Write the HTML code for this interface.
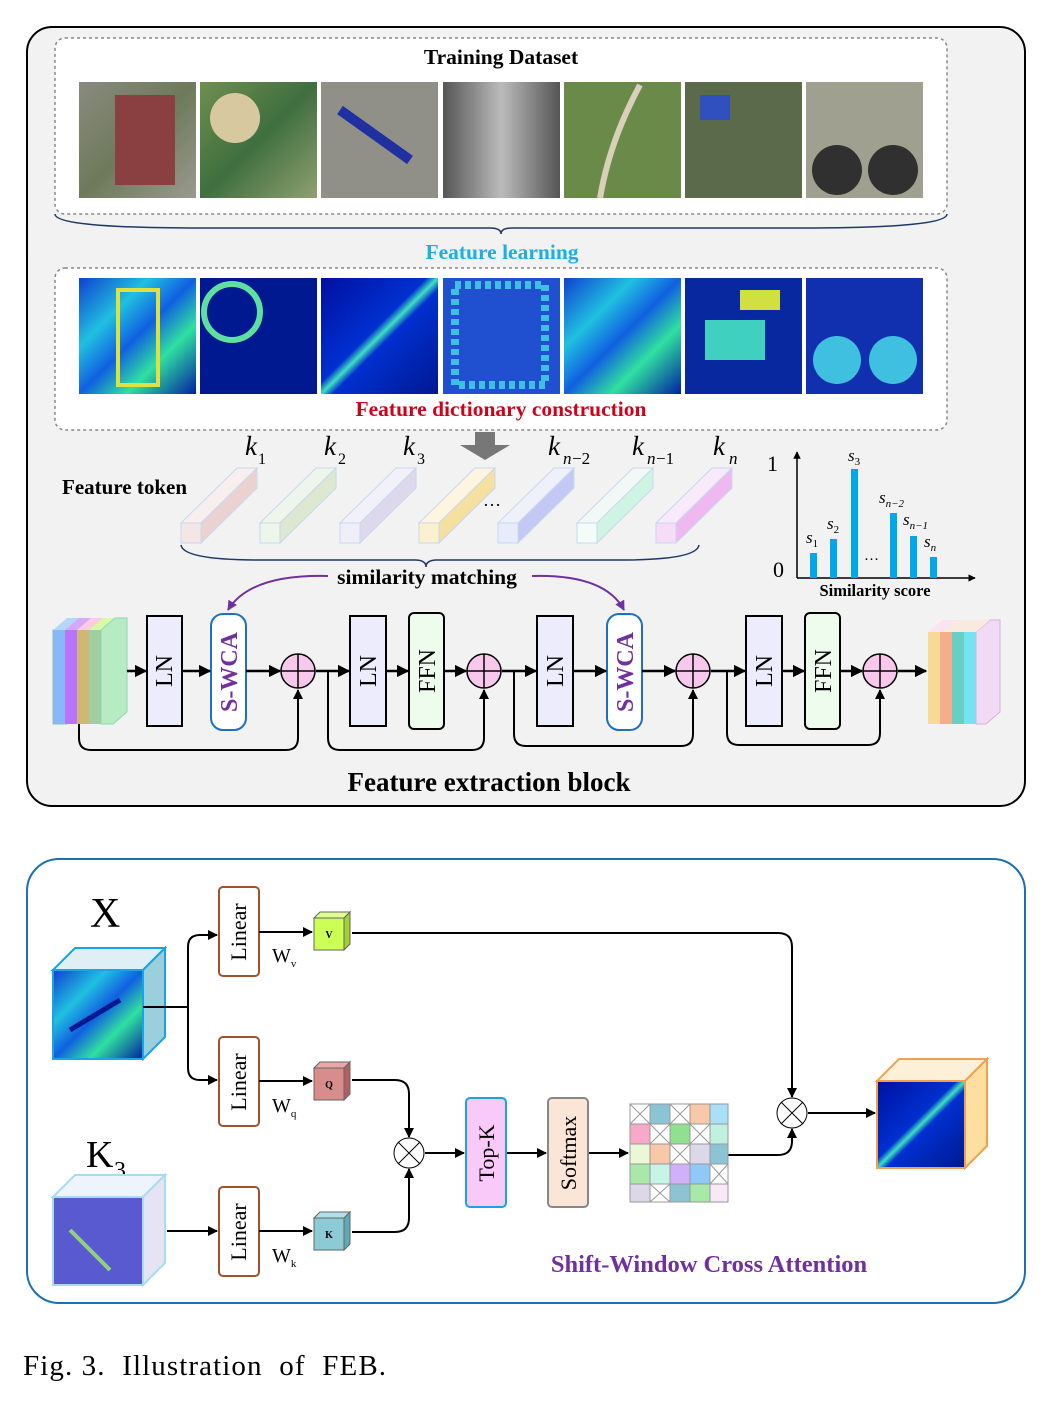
<!DOCTYPE html>
<html><head><meta charset="utf-8"><style>
body{margin:0;background:#fff}
svg{display:block}
text{font-family:"Liberation Serif",serif}
</style></head><body>
<svg width="1057" height="1413" viewBox="0 0 1057 1413" xmlns="http://www.w3.org/2000/svg">
<defs>
<marker id="a" viewBox="0 0 10 10" refX="9" refY="5" markerWidth="5" markerHeight="5" orient="auto"><path d="M0,0L10,5L0,10z" fill="#000"/></marker>
<marker id="p" viewBox="0 0 10 10" refX="9" refY="5" markerWidth="5" markerHeight="5" orient="auto"><path d="M0,0L10,5L0,10z" fill="#7030a0"/></marker>
<linearGradient id="h1" x1="0" y1="0" x2="1" y2="1"><stop offset="0" stop-color="#1040d0"/><stop offset=".3" stop-color="#20c0e0"/><stop offset=".5" stop-color="#1060e0"/><stop offset=".7" stop-color="#30e0a0"/><stop offset="1" stop-color="#0020a0"/></linearGradient>
<linearGradient id="h2" x1="0" y1="0" x2="1" y2="1"><stop offset="0" stop-color="#0010a0"/><stop offset=".45" stop-color="#0030d0"/><stop offset=".5" stop-color="#40e0c0"/><stop offset=".55" stop-color="#0030d0"/><stop offset="1" stop-color="#001890"/></linearGradient>
<linearGradient id="g1" x1="0" y1="0" x2="1" y2="1"><stop offset="0" stop-color="#8a8a80"/><stop offset=".5" stop-color="#6e7a5a"/><stop offset="1" stop-color="#9a9a90"/></linearGradient>
<linearGradient id="g2" x1="0" y1="0" x2="1" y2="1"><stop offset="0" stop-color="#6f8f4f"/><stop offset=".5" stop-color="#3f6f3f"/><stop offset="1" stop-color="#8fa070"/></linearGradient>
<linearGradient id="g3" x1="0" y1="0" x2="1" y2="0"><stop offset="0" stop-color="#555"/><stop offset=".5" stop-color="#bbb"/><stop offset="1" stop-color="#555"/></linearGradient>
</defs>

<rect x="27" y="27" width="998" height="779" rx="25" fill="#f2f2f2" stroke="#000" stroke-width="2"/>
<rect x="55" y="38" width="892" height="176" rx="10" fill="#fff" stroke="#888" stroke-width="1.5" stroke-dasharray="3,3"/>
<text x="501" y="64" font-size="21.5" font-weight="bold" text-anchor="middle">Training Dataset</text>
<rect x="79" y="82" width="117" height="116" fill="url(#g1)"/><rect x="115" y="95" width="60" height="90" fill="#8a4040"/>
<rect x="200" y="82" width="117" height="116" fill="url(#g2)"/><circle cx="235" cy="118" r="25" fill="#d8c8a0"/>
<rect x="321" y="82" width="117" height="116" fill="#909088"/><path d="M340 110 L410 160" stroke="#2030a0" stroke-width="10"/>
<rect x="443" y="82" width="117" height="116" fill="url(#g3)"/>
<rect x="564" y="82" width="117" height="116" fill="#6a8a4a"/><path d="M640 85 Q610 140 600 198" stroke="#d8d0b8" stroke-width="6" fill="none"/>
<rect x="685" y="82" width="117" height="116" fill="#5a6a4a"/><rect x="700" y="95" width="30" height="25" fill="#3050c0"/>
<rect x="806" y="82" width="117" height="116" fill="#a0a090"/><circle cx="837" cy="170" r="25" fill="#303030"/><circle cx="893" cy="170" r="25" fill="#303030"/>
<path d="M55 214 Q55 228 200 228 L490 228 Q501 228 501 234 Q501 228 512 228 L800 228 Q947 228 947 214" fill="none" stroke="#1f3864" stroke-width="1.5"/>
<text x="502" y="259" font-size="21.5" font-weight="bold" fill="#1ab0e6" text-anchor="middle">Feature learning</text>

<rect x="55" y="268" width="892" height="162" rx="10" fill="#fff" stroke="#888" stroke-width="1.5" stroke-dasharray="3,3"/>
<rect x="79" y="278" width="117" height="116" fill="url(#h1)"/><rect x="118" y="290" width="40" height="95" fill="none" stroke="#e0e040" stroke-width="4"/>
<rect x="200" y="278" width="117" height="116" fill="#001890"/><circle cx="232" cy="312" r="28" fill="none" stroke="#60e0a0" stroke-width="6"/>
<rect x="321" y="278" width="117" height="116" fill="url(#h2)"/>
<rect x="443" y="278" width="117" height="116" fill="#2050d0"/><rect x="455" y="285" width="90" height="100" fill="none" stroke="#40c0e0" stroke-width="8" stroke-dasharray="6,4"/>
<rect x="564" y="278" width="117" height="116" fill="url(#h1)"/>
<rect x="685" y="278" width="117" height="116" fill="#0828a0"/><rect x="705" y="320" width="60" height="40" fill="#40d0c0"/><rect x="740" y="290" width="40" height="20" fill="#d0e040"/>
<rect x="806" y="278" width="117" height="116" fill="#1030b0"/><circle cx="837" cy="360" r="24" fill="#40c0e0"/><circle cx="893" cy="360" r="24" fill="#40c0e0"/>
<text x="501" y="416" font-size="21.5" font-weight="bold" fill="#d0021b" text-anchor="middle">Feature dictionary construction</text>
<path d="M475 432 H495 V445 H510 L485 460 L460 445 H475 Z" fill="#777"/>

<text x="62" y="494" font-size="21" font-weight="bold">Feature token</text>
<g font-size="27" font-style="italic">
<text x="245" y="455">k</text><text x="258" y="464" font-size="16" font-style="normal">1</text>
<text x="324" y="455">k</text><text x="338" y="464" font-size="16" font-style="normal">2</text>
<text x="403" y="455">k</text><text x="417" y="464" font-size="16" font-style="normal">3</text>
<text x="548" y="455">k</text><text x="563" y="464" font-size="17">n</text><text x="572" y="464" font-size="17" font-style="normal">−2</text>
<text x="632" y="455">k</text><text x="647" y="464" font-size="17">n</text><text x="656" y="464" font-size="17" font-style="normal">−1</text>
<text x="713" y="455">k</text><text x="729" y="464" font-size="17">n</text>
</g>
<g stroke-width="1">
<g stroke="#c8d8f0"><path d="M181 523 L237 468 H257 L201 523Z" fill="#f8eeee"/><path d="M201 523 L257 468 V488 L201 543Z" fill="#ebd2d0"/><rect x="181" y="523" width="20" height="20" fill="#f5e6e6"/></g>
<g stroke="#c8d8f0"><path d="M260 523 L316 468 H336 L280 523Z" fill="#eef5ea"/><path d="M280 523 L336 468 V488 L280 543Z" fill="#dce8cf"/><rect x="260" y="523" width="20" height="20" fill="#eef5ea"/></g>
<g stroke="#c8d8f0"><path d="M340 523 L396 468 H416 L360 523Z" fill="#f2f0f8"/><path d="M360 523 L416 468 V488 L360 543Z" fill="#ddd8ec"/><rect x="340" y="523" width="20" height="20" fill="#f0eef8"/></g>
<g stroke="#c8d8f0"><path d="M419 523 L475 468 H495 L439 523Z" fill="#fdf5e0"/><path d="M439 523 L495 468 V488 L439 543Z" fill="#f5e0a0"/><rect x="419" y="523" width="20" height="20" fill="#fbf0d0"/></g>
<g stroke="#c8d8f0"><path d="M498 523 L554 468 H574 L518 523Z" fill="#eef0fa"/><path d="M518 523 L574 468 V488 L518 543Z" fill="#c4c8f4"/><rect x="498" y="523" width="20" height="20" fill="#e8ecfa"/></g>
<g stroke="#c8d8f0"><path d="M577 523 L633 468 H653 L597 523Z" fill="#f2f8f6"/><path d="M597 523 L653 468 V488 L597 543Z" fill="#d0f4e4"/><rect x="577" y="523" width="20" height="20" fill="#f4fbf8"/></g>
<g stroke="#c8d8f0"><path d="M656 523 L712 468 H732 L676 523Z" fill="#f8eafa"/><path d="M676 523 L732 468 V488 L676 543Z" fill="#f0b8f0"/><rect x="656" y="523" width="20" height="20" fill="#f6dcf6"/></g>
</g>
<text x="483" y="506" font-size="18">…</text>
<path d="M181 545 Q183 560 260 560 L415 560 Q426 560 426 567 Q426 560 437 560 L620 560 Q697 560 699 545" fill="none" stroke="#1f3864" stroke-width="1.5"/>
<text x="427" y="584" font-size="21.5" font-weight="bold" text-anchor="middle">similarity matching</text>
<path d="M328 576 Q250 574 228 610" fill="none" stroke="#7030a0" stroke-width="2" marker-end="url(#p)"/>
<path d="M532 576 Q605 574 624 610" fill="none" stroke="#7030a0" stroke-width="2" marker-end="url(#p)"/>

<line x1="797" y1="578" x2="797" y2="452" stroke="#000" stroke-width="1.5" marker-end="url(#a)"/>
<line x1="797" y1="578" x2="975" y2="578" stroke="#000" stroke-width="1.5" marker-end="url(#a)"/>
<text x="767" y="471" font-size="22">1</text><text x="773" y="577" font-size="22">0</text>
<g fill="#00a8e8"><rect x="810" y="553" width="7" height="25"/><rect x="830" y="539" width="7" height="39"/><rect x="851" y="469" width="7" height="109"/><rect x="890" y="513" width="7" height="65"/><rect x="910" y="536" width="7" height="42"/><rect x="930" y="557" width="7" height="21"/></g>
<g font-size="17" font-style="italic"><text x="806" y="543">s<tspan font-size="11" font-style="normal" dy="4">1</tspan></text><text x="827" y="529">s<tspan font-size="11" font-style="normal" dy="4">2</tspan></text><text x="848" y="461">s<tspan font-size="11" font-style="normal" dy="4">3</tspan></text><text x="879" y="503">s<tspan font-size="11" dy="4">n−2</tspan></text><text x="903" y="525">s<tspan font-size="11" dy="4">n−1</tspan></text><text x="924" y="547">s<tspan font-size="11" dy="4">n</tspan></text></g>
<text x="864" y="560" font-size="15">…</text>
<text x="875" y="596" font-size="16.5" font-weight="bold" text-anchor="middle">Similarity score</text>

<g opacity="0.7">
<rect x="53" y="630" width="14" height="94" fill="#5aa0ff" stroke="#6aa"/><path d="M53 630 L67 618 H81 L67 630Z" fill="#9cf"/>
<rect x="65" y="630" width="14" height="94" fill="#a040ff"/><path d="M65 630 L79 618 H93 L79 630Z" fill="#c8f"/>
<rect x="77" y="630" width="14" height="94" fill="#c0a040"/><path d="M77 630 L91 618 H105 L91 630Z" fill="#fbd"/>
<rect x="89" y="630" width="14" height="94" fill="#80c080"/><path d="M89 630 L103 618 H117 L103 630Z" fill="#cf8"/>
<path d="M101 630 L115 618 H127 V712 L113 724 H101Z" fill="#9fe9b0" stroke="#6c9"/>
</g>
<g opacity="0.7">
<rect x="928" y="632" width="14" height="92" fill="#f8d070"/><path d="M928 632 L942 620 H956 L942 632Z" fill="#fde"/>
<rect x="940" y="632" width="14" height="92" fill="#f89060"/>
<rect x="952" y="632" width="14" height="92" fill="#30c0b0"/>
<rect x="964" y="632" width="14" height="92" fill="#40e0f0"/>
<path d="M976 632 L990 620 H1000 V712 L986 724 H976Z" fill="#f0d0f8" stroke="#c9c"/>
<path d="M942 632 L956 620 H990 L976 632Z" fill="#fde8d8"/>
</g>
<g stroke="#000" stroke-width="2" fill="#ececfc">
<rect x="147" y="616" width="35" height="110"/><rect x="350" y="616" width="36" height="110"/><rect x="537" y="616" width="36" height="110"/><rect x="746" y="616" width="36" height="110"/>
<rect x="409" y="613" width="35" height="116" rx="5" fill="#eefcee"/><rect x="805" y="613" width="35" height="116" rx="5" fill="#eefcee"/>
</g>
<rect x="211" y="614" width="35" height="116" rx="12" fill="#fff" stroke="#1f6fc0" stroke-width="2"/>
<rect x="607" y="614" width="35" height="116" rx="12" fill="#fff" stroke="#1f6fc0" stroke-width="2"/>
<g font-size="24" text-anchor="middle">
<text transform="translate(172,671) rotate(-90)">LN</text><text transform="translate(376,671) rotate(-90)">LN</text><text transform="translate(563,671) rotate(-90)">LN</text><text transform="translate(772,671) rotate(-90)">LN</text>
<text transform="translate(435,671) rotate(-90)">FFN</text><text transform="translate(831,671) rotate(-90)">FFN</text>
<text transform="translate(237,672) rotate(-90)" fill="#7030a0" font-weight="bold">S-WCA</text><text transform="translate(633,672) rotate(-90)" fill="#7030a0" font-weight="bold">S-WCA</text>
</g>
<g stroke="#000" stroke-width="2.5" fill="none">
<line x1="127" y1="671" x2="146" y2="671" marker-end="url(#a)"/><line x1="182" y1="671" x2="210" y2="671" marker-end="url(#a)"/><line x1="246" y1="671" x2="280" y2="671" marker-end="url(#a)"/>
<line x1="316" y1="671" x2="349" y2="671" marker-end="url(#a)"/><line x1="386" y1="671" x2="408" y2="671" marker-end="url(#a)"/><line x1="444" y1="671" x2="466" y2="671" marker-end="url(#a)"/>
<line x1="502" y1="671" x2="536" y2="671" marker-end="url(#a)"/><line x1="573" y1="671" x2="606" y2="671" marker-end="url(#a)"/><line x1="642" y1="671" x2="675" y2="671" marker-end="url(#a)"/>
<line x1="711" y1="671" x2="745" y2="671" marker-end="url(#a)"/><line x1="782" y1="671" x2="804" y2="671" marker-end="url(#a)"/><line x1="840" y1="671" x2="862" y2="671" marker-end="url(#a)"/>
<line x1="898" y1="671" x2="926" y2="671" marker-end="url(#a)"/>
</g>
<g stroke="#000" stroke-width="2" fill="none">
<path d="M79 724 V738 Q79 750 91 750 H286 Q298 750 298 738 V690" marker-end="url(#a)"/>
<path d="M328 671 V738 Q328 750 340 750 H472 Q484 750 484 738 V690" marker-end="url(#a)"/>
<path d="M514 671 V734 Q514 746 526 746 H681 Q693 746 693 734 V690" marker-end="url(#a)"/>
<path d="M727 671 V733 Q727 745 739 745 H868 Q880 745 880 733 V690" marker-end="url(#a)"/>
</g>
<g stroke="#000" stroke-width="1.5" fill="#f8c8ec">
<circle cx="298" cy="671" r="17"/><circle cx="484" cy="671" r="17"/><circle cx="693" cy="671" r="17"/><circle cx="880" cy="671" r="17"/>
</g>
<g stroke="#000" stroke-width="1.5"><path d="M281 671H315M298 654V688M467 671H501M484 654V688M676 671H710M693 654V688M863 671H897M880 654V688"/></g>
<text x="489" y="791" font-size="27" font-weight="bold" text-anchor="middle">Feature extraction block</text>

<rect x="27" y="859" width="998" height="444" rx="32" fill="#fff" stroke="#1a6fb5" stroke-width="2"/>
<text x="90" y="927" font-size="42">X</text>
<text x="86" y="1167" font-size="38">K</text><text x="114" y="1178" font-size="24">3</text>
<path d="M53 970 L75 948 H165 L143 970Z" fill="#def0f6" stroke="#1aa3e8" stroke-width="2"/>
<path d="M143 970 L165 948 V1037 L143 1059Z" fill="#9ccfdc" stroke="#1aa3e8" stroke-width="2"/>
<rect x="53" y="970" width="90" height="89" fill="url(#h1)" stroke="#1aa3e8" stroke-width="2"/>
<path d="M70 1030 L120 1000" stroke="#001890" stroke-width="5"/>
<path d="M53 1197 L75 1175 H165 L143 1197Z" fill="#eef4fb" stroke="#a8dcf0" stroke-width="2"/>
<path d="M143 1197 L165 1175 V1263 L143 1285Z" fill="#e6e4f4" stroke="#a8dcf0" stroke-width="2"/>
<rect x="53" y="1197" width="90" height="88" fill="#5a5ad0" stroke="#a8dcf0" stroke-width="2"/>
<path d="M70 1230 L110 1270" stroke="#90d080" stroke-width="4"/>
<path d="M877 1081 L899 1059 H987 L965 1081Z" fill="#fdf0d8" stroke="#f0a050" stroke-width="2"/>
<path d="M965 1081 L987 1059 V1146 L965 1168Z" fill="#fde0a0" stroke="#f0a050" stroke-width="2"/>
<rect x="877" y="1081" width="88" height="87" fill="url(#h2)" stroke="#f0a050" stroke-width="2"/>

<g stroke="#a0522d" stroke-width="2" fill="#fff">
<rect x="219" y="887" width="40" height="89" rx="4"/><rect x="219" y="1037" width="40" height="89" rx="4"/><rect x="219" y="1187" width="40" height="89" rx="4"/>
</g>
<g font-size="22" text-anchor="middle">
<text transform="translate(246,932) rotate(-90)">Linear</text><text transform="translate(246,1082) rotate(-90)">Linear</text><text transform="translate(246,1232) rotate(-90)">Linear</text>
</g>
<g font-size="20"><text x="272" y="962">W<tspan font-size="11" dy="5">v</tspan></text><text x="272" y="1112">W<tspan font-size="11" dy="5">q</tspan></text><text x="272" y="1262">W<tspan font-size="11" dy="5">k</tspan></text></g>
<g stroke="#666" stroke-width="1">
<path d="M314 918 L320 912 H350 L344 918Z" fill="#e0ff90"/><path d="M344 918 L350 912 V944 L344 950Z" fill="#a0d030"/><rect x="314" y="918" width="30" height="32" fill="#ccff55"/>
<path d="M314 1068 L320 1062 H350 L344 1068Z" fill="#e8a8a8"/><path d="M344 1068 L350 1062 V1094 L344 1100Z" fill="#b06060"/><rect x="314" y="1068" width="30" height="32" fill="#d88c8c"/>
<path d="M314 1218 L320 1212 H350 L344 1218Z" fill="#b0e0ea"/><path d="M344 1218 L350 1212 V1244 L344 1250Z" fill="#60a8b8"/><rect x="314" y="1218" width="30" height="32" fill="#8ccad6"/>
</g>
<g font-size="10" font-weight="bold" text-anchor="middle"><text x="329" y="938">V</text><text x="329" y="1088">Q</text><text x="329" y="1238">K</text></g>

<g stroke="#000" stroke-width="2" fill="none">
<path d="M143 1007 H188"/>
<path d="M188 1007 V947 Q188 935 200 935 H217" marker-end="url(#a)"/>
<path d="M188 1007 V1068 Q188 1080 200 1080 H217" marker-end="url(#a)"/>
<path d="M167 1231 H217" marker-end="url(#a)"/>
<path d="M259 932 H312" marker-end="url(#a)"/><path d="M259 1081 H312" marker-end="url(#a)"/><path d="M259 1231 H312" marker-end="url(#a)"/>
<path d="M352 933 H778 Q792 933 792 947 V1097" marker-end="url(#a)"/>
<path d="M352 1080 H395 Q409 1080 409 1094 V1137" marker-end="url(#a)"/>
<path d="M352 1232 H395 Q409 1232 409 1218 V1169" marker-end="url(#a)"/>
<path d="M425 1153 H464" marker-end="url(#a)"/><path d="M506 1153 H546" marker-end="url(#a)"/><path d="M588 1153 H628" marker-end="url(#a)"/>
<path d="M728 1155 H778 Q792 1155 792 1141 V1129" marker-end="url(#a)"/>
<path d="M808 1113 H875" marker-end="url(#a)"/>
</g>
<g stroke="#000" stroke-width="1" fill="#fff">
<circle cx="409" cy="1153" r="15"/><circle cx="792" cy="1113" r="15"/>
<path d="M398 1142 L420 1164 M420 1142 L398 1164 M781 1102 L803 1124 M803 1102 L781 1124"/>
</g>
<rect x="466" y="1098" width="40" height="109" rx="4" fill="#f9c9f9" stroke="#1aa3e8" stroke-width="2"/>
<rect x="548" y="1098" width="40" height="109" rx="4" fill="#fbe5d6" stroke="#888" stroke-width="2"/>
<text transform="translate(494,1153) rotate(-90)" font-size="22" text-anchor="middle">Top-K</text>
<text transform="translate(576,1153) rotate(-90)" font-size="22" text-anchor="middle">Softmax</text>
<g stroke="#999" stroke-width="1">
<rect x="630" y="1104" width="20" height="20" fill="#fff"/><rect x="650" y="1104" width="20" height="20" fill="#8cc4d4"/><rect x="670" y="1104" width="20" height="20" fill="#fff"/><rect x="690" y="1104" width="20" height="20" fill="#f8c8a8"/><rect x="710" y="1104" width="18" height="20" fill="#a8e0f8"/>
<rect x="630" y="1124" width="20" height="20" fill="#f8a8c8"/><rect x="650" y="1124" width="20" height="20" fill="#fff"/><rect x="670" y="1124" width="20" height="20" fill="#90e090"/><rect x="690" y="1124" width="20" height="20" fill="#fff"/><rect x="710" y="1124" width="18" height="20" fill="#c0f0e0"/>
<rect x="630" y="1144" width="20" height="20" fill="#eaf8d8"/><rect x="650" y="1144" width="20" height="20" fill="#f8c8a8"/><rect x="670" y="1144" width="20" height="20" fill="#fff"/><rect x="690" y="1144" width="20" height="20" fill="#dcd8e8"/><rect x="710" y="1144" width="18" height="20" fill="#8cc4d4"/>
<rect x="630" y="1164" width="20" height="20" fill="#a8e8a8"/><rect x="650" y="1164" width="20" height="20" fill="#c8f4e8"/><rect x="670" y="1164" width="20" height="20" fill="#d0b0f8"/><rect x="690" y="1164" width="20" height="20" fill="#90c8f8"/><rect x="710" y="1164" width="18" height="20" fill="#fff"/>
<rect x="630" y="1184" width="20" height="18" fill="#dcd8e8"/><rect x="650" y="1184" width="20" height="18" fill="#fff"/><rect x="670" y="1184" width="20" height="18" fill="#8cc4d4"/><rect x="690" y="1184" width="20" height="18" fill="#a8e8a8"/><rect x="710" y="1184" width="18" height="18" fill="#f8e8f8"/>
<path d="M630 1104l20 20m0-20l-20 20M670 1104l20 20m0-20l-20 20M650 1124l20 20m0-20l-20 20M690 1124l20 20m0-20l-20 20M670 1144l20 20m0-20l-20 20M710 1164l18 20m0-20l-18 20M650 1184l20 18m0-18l-20 18"/>
</g>
<text x="709" y="1272" font-size="24.5" font-weight="bold" fill="#7030a0" text-anchor="middle">Shift-Window Cross Attention</text>

<text x="23" y="1375" font-size="29" textLength="363" lengthAdjust="spacing" xml:space="preserve" style="white-space:pre">Fig. 3.  Illustration  of  FEB.</text>
</svg>
</body></html>
